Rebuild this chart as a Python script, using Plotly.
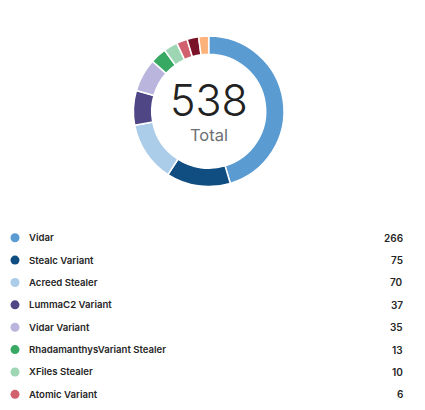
import plotly.graph_objects as go

# ---- data ----
labels = ["Vidar", "Stealc Variant", "Acreed Stealer", "LummaC2 Variant", "Vidar Variant",
          "RhadamanthysVariant Stealer", "XFiles Stealer", "Atomic Variant",
          "Other (dark red)", "Other (orange)"]
counts = [266, 75, 70, 37, 35, 13, 10, 6, 7, 5]
colors = ["#5a9bd2", "#104d81", "#abcde9", "#4f4686", "#b9b5dd",
          "#37a963", "#9ed6b4", "#d2616f", "#7b1328", "#fdb27b"]
total = 538
legend_rows = 8          # rows visible in the list
center_label = "Total"

# the source chart gives every slice a small constant extra arc
arc_pad = 8
slice_values = [c + arc_pad for c in counts]

W, H = 425, 410
cx, cy, R = 208.7, 111.3, 75.3

fig = go.Figure()
fig.add_trace(go.Pie(
    labels=labels, values=slice_values, sort=False, direction="clockwise",
    rotation=0, hole=0.757, textinfo="none", hoverinfo="label",
    customdata=counts,
    marker=dict(colors=colors, line=dict(color="white", width=1.5)),
    domain=dict(x=[(cx - R) / W, (cx + R) / W], y=[1 - (cy + R) / H, 1 - (cy - R) / H]),
    showlegend=False,
))

# legend list drawn on a pixel-scaled axis (row index on y)
row0, step = 237.7, 22.38
rows = list(range(legend_rows))
fig.add_trace(go.Scatter(
    x=[15] * legend_rows, y=rows, mode="markers",
    marker=dict(size=9, color=colors[:legend_rows], line=dict(width=0)),
    xaxis="x", yaxis="y", showlegend=False, hoverinfo="skip",
))
annos = []
for i in rows:
    annos.append(dict(x=26.5, y=i, xref="x", yref="y", text=labels[i], showarrow=False,
                      xanchor="left", yanchor="middle",
                      font=dict(family="Inter", size=9.6, color="#262626", weight=600)))
    annos.append(dict(x=405, y=i, xref="x", yref="y", text=str(counts[i]), showarrow=False,
                      xanchor="right", yanchor="middle",
                      font=dict(family="Inter", size=10, color="#262626", weight=600)))

annos.append(dict(x=cx / W, y=1 - 100 / H, xref="paper", yref="paper", text=str(total),
                  showarrow=False, xanchor="center", yanchor="middle",
                  font=dict(family="Inter", size=43, color="#222222", weight=300)))
annos.append(dict(x=cx / W, y=1 - 135 / H, xref="paper", yref="paper", text=center_label,
                  showarrow=False, xanchor="center", yanchor="middle",
                  font=dict(family="Inter", size=16.5, color="#6d6f74", weight=400)))

fig.update_layout(
    width=W, height=H, margin=dict(l=0, r=0, t=0, b=0),
    paper_bgcolor="white", plot_bgcolor="white",
    xaxis=dict(range=[0, W], domain=[0, 1], visible=False, fixedrange=True),
    yaxis=dict(range=[(H - row0) / step, -row0 / step], domain=[0, 1], visible=False, fixedrange=True),
    annotations=annos,
)
fig.write_html("out.html")
